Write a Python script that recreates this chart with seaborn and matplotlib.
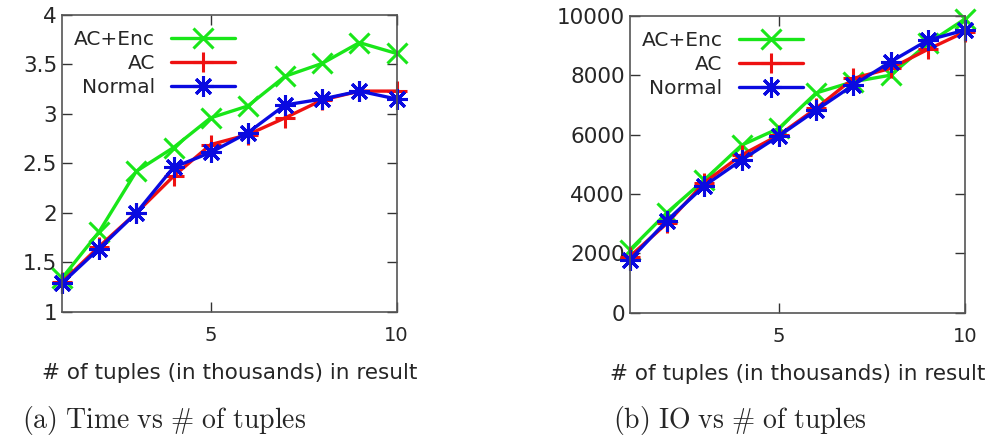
import matplotlib
matplotlib.use("Agg")
import matplotlib.pyplot as plt
import pandas as pd
import seaborn as sns

# thousands of tuples in the result
tuples_k = [1, 2, 3, 4, 5, 6, 7, 8, 9, 10]

time_ac_enc = [1.34, 1.81, 2.42, 2.66, 2.96, 3.08, 3.38, 3.51, 3.72, 3.61]
time_ac = [1.30, 1.66, 2.00, 2.37, 2.69, 2.79, 2.96, 3.14, 3.23, 3.23]
time_normal = [1.29, 1.64, 2.00, 2.46, 2.61, 2.81, 3.09, 3.15, 3.23, 3.15]

io_ac_enc = [2110, 3370, 4470, 5640, 6210, 7400, 7780, 8000, 9070, 9900]
io_ac = [1890, 3010, 4380, 5310, 5980, 6880, 7890, 8230, 8870, 9460]
io_normal = [1770, 3100, 4270, 5140, 5950, 6820, 7670, 8450, 9180, 9520]

series_names = ["AC+Enc", "AC", "Normal"]
colors = {"AC+Enc": "#19e619", "AC": "#ee1111", "Normal": "#0a0ae0"}
markers = {"AC+Enc": "x", "AC": "+", "Normal": (8, 2, 0)}

time_ticks = [1, 1.5, 2, 2.5, 3, 3.5, 4]
time_tick_labels = ["1", "1.5", "2", "2.5", "3", "3.5", "4"]
io_ticks = [0, 2000, 4000, 6000, 8000, 10000]
x_label = "# of tuples (in thousands) in result"
captions = [r"$\mathrm{(a)\ Time\ vs\ \#\ of\ tuples}$",
            r"$\mathrm{(b)\ IO\ vs\ \#\ of\ tuples}$"]


def long_frame(values):
    rows = []
    for name, vals in zip(series_names, values):
        for x, y in zip(tuples_k, vals):
            rows.append({"x": x, "y": y, "series": name})
    return pd.DataFrame(rows)


def draw(ax, df, ylim, yticks, ylabels):
    for name in series_names:
        sub = df[df["series"] == name]
        sns.lineplot(data=sub, x="x", y="y", ax=ax, color=colors[name],
                     marker=markers[name], markersize=15, markeredgewidth=2.2,
                     markeredgecolor=colors[name], linewidth=2.4, label=name,
                     clip_on=False)
    ax.set_xlim(1, 10)
    ax.set_ylim(*ylim)
    ax.set_xticks([5, 10])
    ax.set_yticks(yticks)
    ax.set_yticklabels(ylabels)
    ax.set_xlabel(x_label, fontsize=15.5, labelpad=13)
    ax.set_ylabel("")
    ax.tick_params(direction="in", length=7, width=1, top=True, right=True,
                   labelsize=15.5, color="#333333")
    ax.tick_params(axis="x", pad=10, labelsize=14)
    for sp in ax.spines.values():
        sp.set_color("#555555")
        sp.set_linewidth(1.2)
    ax.grid(False)
    leg = ax.legend(loc="upper left", frameon=False, markerfirst=False,
                    handlelength=3.2, fontsize=14.5, borderaxespad=0.2,
                    labelspacing=0.25, bbox_to_anchor=(0.0, 0.99))
    leg._legend_box.align = "right"


sns.set_theme(style="ticks")
plt.rcParams["font.family"] = ["DejaVu Sans"]
plt.rcParams["mathtext.fontset"] = "cm"

fig = plt.figure(figsize=(9.9, 4.38), dpi=100)
ax1 = fig.add_axes([0.0626, 0.288, 0.338, 0.678])
ax2 = fig.add_axes([0.636, 0.286, 0.339, 0.678])

draw(ax1, long_frame([time_ac_enc, time_ac, time_normal]), (1, 4),
     time_ticks, time_tick_labels)
draw(ax2, long_frame([io_ac_enc, io_ac, io_normal]), (0, 10000),
     io_ticks, [str(v) for v in io_ticks])

fig.text(0.022, 0.041, captions[0], fontsize=20, ha="left", va="center")
fig.text(0.619, 0.041, captions[1], fontsize=20, ha="left", va="center")

fig.savefig("out.png", dpi=100)
